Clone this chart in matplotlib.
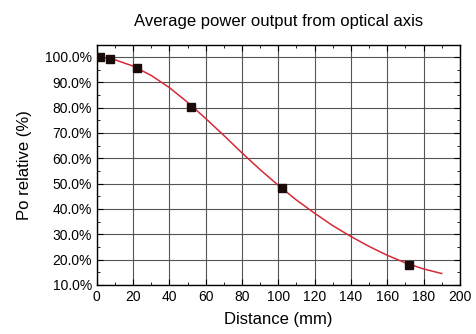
import matplotlib
matplotlib.use("Agg")
import matplotlib.pyplot as plt
from matplotlib.ticker import FuncFormatter, MultipleLocator

plt.rcParams['font.family'] = ['Liberation Sans', 'DejaVu Sans']

# measured points
dist_pts = [2, 7, 22, 52, 102, 172]
power_pts = [100.0, 99.2, 95.8, 80.4, 48.2, 17.8]

# fit curve
dist_fit = [0, 10, 20, 30, 40, 50, 60, 70, 80, 90, 100,
            110, 120, 130, 140, 150, 160, 170, 180, 190]
power_fit = [100.3, 98.9, 96.4, 92.7, 87.9, 82.1, 75.7, 69.0, 62.1, 55.5, 49.3,
             43.5, 38.3, 33.4, 29.1, 25.2, 21.7, 18.7, 16.3, 14.5]

x_ticks = list(range(0, 201, 20))
y_ticks = list(range(10, 101, 10))

fig = plt.figure(figsize=(4.77, 3.34), dpi=100)
ax = fig.add_axes([0.203, 0.147, 0.761, 0.718])

ax.plot(dist_fit, power_fit, color="#d42a35", linewidth=1.1, zorder=3)
ax.plot(dist_pts, power_pts, linestyle="none", marker="s", markersize=6,
        color="#1a0a0a", zorder=4)

ax.set_xlim(0, 200)
ax.set_ylim(10, 104.7)
ax.set_xticks(x_ticks)
ax.set_yticks(y_ticks)
ax.xaxis.set_minor_locator(MultipleLocator(10))
ax.yaxis.set_minor_locator(MultipleLocator(5))
ax.yaxis.set_major_formatter(FuncFormatter(lambda v, p: f"{v:.1f}%"))
ax.tick_params(which="both", direction="in", top=True, right=True, labelsize=10)
ax.tick_params(which="major", length=4)
ax.tick_params(which="minor", length=2)
ax.grid(True, which="major", color="#555555", linewidth=0.8)

for s in ax.spines.values():
    s.set_linewidth(1.0)

ax.set_title("Average power output from optical axis", fontsize=12, pad=14)
ax.set_xlabel("Distance (mm)", fontsize=12, labelpad=6)
ax.set_ylabel("Po relative (%)", fontsize=12, labelpad=9)

fig.savefig("out.png", dpi=100)
